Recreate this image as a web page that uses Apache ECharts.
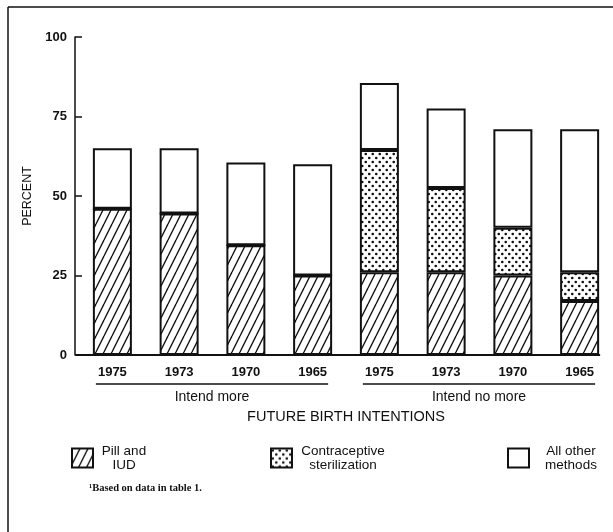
<!DOCTYPE html>
<html>
<head>
<meta charset="utf-8">
<script src="https://cdn.jsdelivr.net/npm/echarts@6.0.0/dist/echarts.min.js"></script>
<style>
  html, body { margin: 0; padding: 0; background: #fff; }
  #chart { width: 613px; height: 532px; }
</style>
</head>
<body>
<div id="chart"></div>
<script>
// data
const years = ["1975", "1973", "1970", "1965", "1975", "1973", "1970", "1965"];
const groups = ["Intend more", "Intend no more"];
const groupSize = 4;
const pillIud = [46, 44.5, 34.5, 25, 26, 26, 25, 17];
const sterilization = [0, 0, 0, 0, 38.5, 26.5, 15, 9];
const otherMethods = [19, 20.5, 26, 35, 21, 25, 31, 45];
const seriesNames = ["Pill and IUD", "Contraceptive sterilization", "All other methods"];
const legendLines = {
  "Pill and IUD": ["Pill and", "IUD"],
  "Contraceptive sterilization": ["Contraceptive", "sterilization"],
  "All other methods": ["All other", "methods"],
};

const INK = "#111";
const FONT = "Liberation Sans, Arial, sans-serif";
const BAR_W = 39;

// hatch fill "/"
function makeHatch() {
  const c = document.createElement("canvas");
  c.width = 8;
  c.height = 16;
  const ctx = c.getContext("2d");
  ctx.fillStyle = "#fff";
  ctx.fillRect(0, 0, 8, 16);
  ctx.strokeStyle = INK;
  ctx.lineWidth = 1.4;
  for (let k = -1; k <= 1; k++) {
    ctx.beginPath();
    ctx.moveTo(k * 8, 16);
    ctx.lineTo(k * 8 + 8, 0);
    ctx.stroke();
  }
  return c;
}

// staggered dot fill
function makeDots() {
  const c = document.createElement("canvas");
  c.width = 7;
  c.height = 8;
  const ctx = c.getContext("2d");
  ctx.fillStyle = "#fff";
  ctx.fillRect(0, 0, 7, 8);
  ctx.fillStyle = INK;
  [[1.75, 2], [5.25, 6]].forEach(([x, y]) => {
    ctx.beginPath();
    ctx.arc(x, y, 1.3, 0, Math.PI * 2);
    ctx.fill();
  });
  return c;
}

const fills = [
  { image: makeHatch(), repeat: "repeat" },
  { image: makeDots(), repeat: "repeat" },
  "#fff",
];
const seriesData = [pillIud, sterilization, otherMethods];

const series = seriesNames.map((name, i) => ({
  name: name,
  type: "bar",
  stack: "total",
  barWidth: BAR_W,
  data: seriesData[i],
  itemStyle: { color: fills[i], borderColor: INK, borderWidth: 2 },
  emphasis: { disabled: true },
}));

const legendLefts = [71, 270, 507];
const legendTextW = [46, 86, 60];
const legendPad = [3, 3, 7];
const legends = seriesNames.map((name, i) => ({
  data: [name],
  left: legendLefts[i],
  top: 444,
  padding: 0,
  icon: "rect",
  itemWidth: 21,
  itemHeight: 19,
  selectedMode: false,
  formatter: (n) => legendLines[n].map((l) => "{t|" + l + "}").join("\n"),
  textStyle: {
    color: INK,
    fontFamily: FONT,
    fontSize: 13.5,
    rich: {
      t: {
        width: legendTextW[i], align: "center", padding: [0, 0, 0, legendPad[i]],
        fontFamily: FONT, fontSize: 13.5, lineHeight: 14, color: INK,
      },
    },
  },
}));

const chart = echarts.init(document.getElementById("chart"));

chart.setOption({
  backgroundColor: "#fff",
  animation: false,
  grid: { left: 79, width: 536, top: 37, bottom: 177, containLabel: false },
  legend: legends,
  xAxis: {
    type: "category",
    data: years,
    axisLine: { show: false },
    axisTick: { show: false },
    axisLabel: { color: INK, fontFamily: FONT, fontSize: 13, fontWeight: "bold", margin: 11 },
    name: "FUTURE BIRTH INTENTIONS",
    nameLocation: "middle",
    nameGap: 54,
    nameTextStyle: { color: INK, fontFamily: FONT, fontSize: 14.5 },
  },
  yAxis: {
    type: "value",
    min: 0,
    max: 100,
    interval: 25,
    offset: 4,
    axisLine: { show: true, lineStyle: { color: INK, width: 1.5 } },
    axisTick: { show: true, inside: true, length: 7, lineStyle: { color: INK, width: 1.5 } },
    axisLabel: { color: INK, fontFamily: FONT, fontSize: 13, fontWeight: "bold", margin: 8 },
    splitLine: { show: false },
    name: "PERCENT",
    nameLocation: "middle",
    nameRotate: 90,
    nameGap: 35,
    nameTextStyle: { color: INK, fontFamily: FONT, fontSize: 12.5 },
  },
  series: series,
});

// baseline, group brackets and labels placed from the axis scale
const px = (i, v) => chart.convertToPixel({ gridIndex: 0 }, [i, v]);
const y0 = px(0, 0)[1];
const axisX = px(0, 0)[0] - BAR_W / 2 - 17.5;
const lastRight = px(years.length - 1, 0)[0] + BAR_W / 2 + 1;

const graphics = [
  // frame
  { type: "line", shape: { x1: 8, y1: 7, x2: 613, y2: 7 }, style: { stroke: INK, lineWidth: 1.5 } },
  { type: "line", shape: { x1: 8, y1: 7, x2: 8, y2: 532 }, style: { stroke: INK, lineWidth: 1.5 } },
  // x baseline
  { type: "line", shape: { x1: axisX, y1: y0, x2: lastRight, y2: y0 }, style: { stroke: INK, lineWidth: 2 } },
  // footnote
  {
    type: "text", left: 89, top: 483,
    style: { text: "¹Based on data in table 1.", fill: INK, font: "bold 10.5px 'Liberation Serif', serif" },
  },
];

groups.forEach((g, gi) => {
  const a = px(gi * groupSize, 0)[0] - BAR_W / 2 + 3;
  const b = px(gi * groupSize + groupSize - 1, 0)[0] + BAR_W / 2 - 4;
  graphics.push({
    type: "line", shape: { x1: a, y1: y0 + 29, x2: b, y2: y0 + 29 },
    style: { stroke: INK, lineWidth: 1.5 },
  });
  graphics.push({
    type: "text", x: (a + b) / 2, y: y0 + 42,
    style: { text: g, fill: INK, font: "14px " + FONT, textAlign: "center", textVerticalAlign: "middle" },
  });
});

chart.setOption({ graphic: graphics });
</script>
</body>
</html>
